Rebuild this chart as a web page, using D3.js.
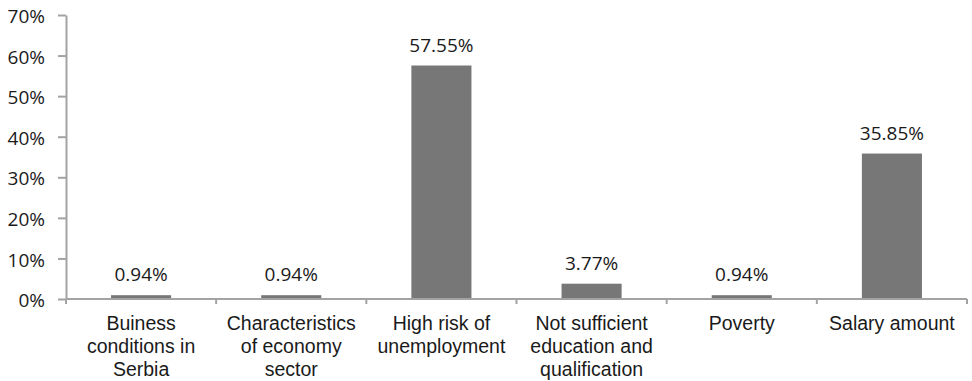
<!DOCTYPE html>
<html>
<head>
<meta charset="utf-8">
<script src="https://cdn.jsdelivr.net/npm/d3@7"></script>
<style>
  body { margin: 0; background: #fff; overflow: hidden; }
  svg { display: block; }
  .axis path, .axis line { stroke: #a3a3a3; stroke-width: 2; }
  .y-axis text { font-family: "Open Sans", sans-serif; font-size: 19px; fill: #1a1a1a; }
  .cat-label { font-family: "Liberation Sans", Arial, sans-serif; font-size: 19.5px; fill: #1a1a1a; }
  .value-label { font-family: "Open Sans", sans-serif; font-size: 19px; fill: #1a1a1a; }
</style>
</head>
<body>
<svg id="chart"></svg>
<script>
// Chart data
const categories = [
  'Buiness conditions in Serbia',
  'Characteristics of economy sector',
  'High risk of unemployment',
  'Not sufficient education and qualification',
  'Poverty',
  'Salary amount'
];
// Tick label lines as they wrap in the picture
const categoryLines = [
  ['Buiness', 'conditions in', 'Serbia'],
  ['Characteristics', 'of economy', 'sector'],
  ['High risk of', 'unemployment'],
  ['Not sufficient', 'education and', 'qualification'],
  ['Poverty'],
  ['Salary amount']
];
const values = [0.94, 0.94, 57.55, 3.77, 0.94, 35.85];
const yTicks = [0, 10, 20, 30, 40, 50, 60, 70];

const config = {
  width: 972,
  height: 381,
  margin: {top: 15, right: 5, bottom: 82, left: 66}
};

const innerWidth = config.width - config.margin.left - config.margin.right;
const innerHeight = config.height - config.margin.top - config.margin.bottom;

const svg = d3.select('#chart')
    .attr('width', config.width)
    .attr('height', config.height);

const chart = svg.append('g')
    .attr('transform', `translate(${config.margin.left},${config.margin.top})`);

// Scales
const xScale = d3.scaleBand()
    .domain(categories)
    .range([0, innerWidth])
    .paddingInner(0.6)
    .paddingOuter(0.3);

const yScale = d3.scaleLinear()
    .domain([0, 70])
    .range([innerHeight, 0]);

// Y axis
const yAxis = d3.axisLeft(yScale)
    .tickValues(yTicks)
    .tickFormat(d => d + '%')
    .tickSize(8)
    .tickSizeOuter(0)
    .tickPadding(13);

chart.append('g')
    .attr('class', 'axis y-axis')
    .call(yAxis)
    .selectAll('text')
    .attr('dy', '0.4em');

// X axis: ticks at category boundaries
const step = xScale.step();
const xAxisG = chart.append('g')
    .attr('class', 'axis x-axis')
    .attr('transform', `translate(0,${innerHeight})`);

xAxisG.append('line')
    .attr('x1', 0)
    .attr('x2', innerWidth);

xAxisG.selectAll('.boundary')
    .data(d3.range(categories.length + 1))
  .join('line')
    .attr('class', 'boundary')
    .attr('x1', i => i * step)
    .attr('x2', i => i * step)
    .attr('y1', 0)
    .attr('y2', 5);

// Category labels
const catLabels = chart.selectAll('.cat-label')
    .data(categories)
  .join('text')
    .attr('class', 'cat-label')
    .attr('text-anchor', 'middle')
    .attr('transform', d => `translate(${xScale(d) + xScale.bandwidth() / 2},${innerHeight + 31})`);

catLabels.selectAll('tspan')
    .data((d, i) => categoryLines[i])
  .join('tspan')
    .attr('x', 0)
    .attr('y', (d, i) => i * 23)
    .text(d => d);

// Bars
chart.selectAll('.bar')
    .data(values)
  .join('rect')
    .attr('class', 'bar')
    .attr('fill', '#777777')
    .attr('x', (d, i) => xScale(categories[i]))
    .attr('width', xScale.bandwidth())
    .attr('y', d => yScale(d))
    .attr('height', d => innerHeight - yScale(d) - 1);

// Value labels
chart.selectAll('.value-label')
    .data(values)
  .join('text')
    .attr('class', 'value-label')
    .attr('text-anchor', 'middle')
    .attr('x', (d, i) => xScale(categories[i]) + xScale.bandwidth() / 2)
    .attr('y', d => yScale(d) - 14)
    .text(d => d.toFixed(2) + '%');
</script>
</body>
</html>
